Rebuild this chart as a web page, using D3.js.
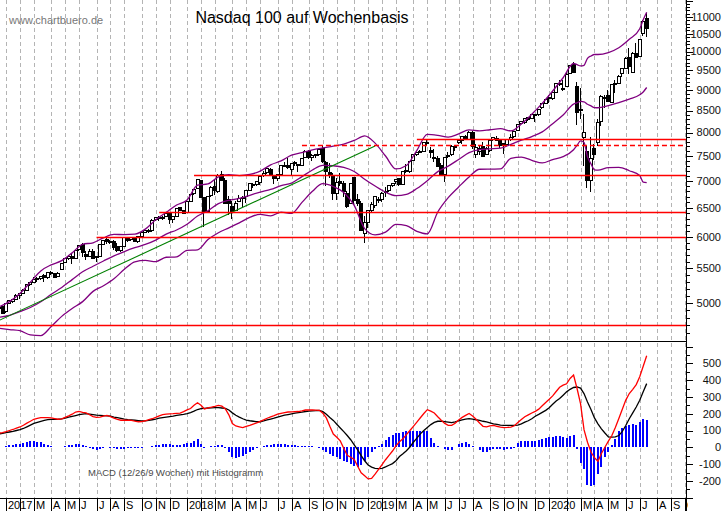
<!DOCTYPE html>
<html lang="de">
<head>
<meta charset="UTF-8" />
<script src="https://d3js.org/d3.v7.min.js"></script>
<title>Nasdaq 100 auf Wochenbasis</title>
<style>
  body { margin: 0; background: #fff; }
  svg { display: block; font-family: Arial, "Liberation Sans", sans-serif; }
</style>
</head>
<body>
<script type="text/javascript">
var width = 723;
var height = 511;
var plotRight = 686;
var mainBottom = 341;
var macdBottom = 498;

// first weekly bar: week starting Mon 19 Dec 2016
var firstWeek = new Date(2016, 11, 19);
var monthLetters = ["J", "F", "M", "A", "M", "J", "J", "A", "S", "O", "N", "D"];

// weekly candles (Nasdaq 100)
var open = [4935,4950,4890,4990,5020,5050,5100,5130,5180,5255,
  5290,5330,5350,5390,5360,5440,5420,5380,5480,5590,
  5650,5690,5660,5790,5870,5710,5690,5770,5670,5690,
  5880,5950,5920,5930,5840,5780,5840,5985,5950,5990,
  5930,6010,6080,6110,6100,6290,6330,6330,6340,6410,
  6290,6350,6500,6450,6420,6620,6770,6850,7010,6690,
  6440,6720,6890,6800,7120,7000,6650,6530,6460,6620,
  6680,6700,6810,6940,6930,6970,7100,7160,7230,7100,
  7040,7130,7300,7310,7230,7360,7330,7310,7460,7600,
  7470,7510,7520,7660,7370,7160,7100,6760,6980,6960,
  6770,6580,7060,6650,6580,6050,6250,6460,6540,6660,
  6660,6790,6810,6920,6980,7050,6940,7200,7190,7400,
  7520,7590,7600,7790,7620,7440,7450,7300,7120,7500,
  7520,7700,7780,7820,7920,7850,8010,7530,7600,7690,
  7530,7620,7840,7870,7830,7730,7730,7840,7910,8040,
  8210,8230,8330,8320,8400,8400,8560,8670,8780,8780,
  8940,9160,9030,9080,9420,9640,9070,8520,7880,7590,
  7000,7650,7780,8240,8780,8870,8700,9150,9170,9420,
  9550,9850,9450,9950,9870,10510,10960];
var high = [4965,4960,5000,5040,5050,5120,5140,5190,5260,5290,
  5370,5370,5390,5410,5450,5460,5430,5440,5590,5650,
  5700,5720,5790,5870,5895,5770,5800,5800,5690,5890,
  5950,6000,5950,5950,5900,5850,5990,5990,5995,6000,
  6010,6080,6110,6125,6300,6340,6350,6350,6410,6430,
  6350,6480,6520,6470,6620,6750,6830,7030,7020,6700,
  6720,6900,7010,7130,7185,7060,6720,6620,6620,6740,
  6720,6800,6970,6960,6990,7100,7200,7280,7260,7120,
  7130,7300,7370,7450,7360,7400,7340,7440,7620,7620,
  7530,7550,7640,7700,7400,7350,7160,7050,7150,6990,
  6800,6960,7080,6760,6630,6350,6470,6600,6700,6690,
  6790,6880,6920,6970,7030,7060,7190,7340,7380,7530,
  7590,7620,7790,7850,7680,7640,7500,7350,7470,7580,
  7720,7730,7830,7930,7950,8030,8040,7760,7730,7800,
  7680,7840,7900,7920,7850,7770,7860,7960,8030,8190,
  8250,8330,8340,8420,8420,8530,8660,8780,8870,8950,
  9180,9250,9250,9460,9640,9720,9190,9040,8430,7710,
  7900,7760,8300,8860,8880,9000,9140,9250,9380,9560,
  9850,10100,9990,10230,10350,10900,11120];
var low = [4925,4850,4870,4980,5000,5045,5060,5120,5175,5240,
  5280,5300,5330,5300,5340,5400,5360,5370,5470,5580,
  5630,5570,5650,5770,5680,5630,5680,5640,5600,5680,
  5870,5880,5880,5790,5760,5760,5830,5920,5940,5910,
  5900,6000,6060,6060,6080,6260,6270,6290,6330,6220,
  6240,6340,6440,6390,6410,6610,6730,6840,6690,6160,
  6430,6700,6730,6780,6990,6580,6380,6310,6440,6600,
  6520,6580,6800,6860,6900,6920,7080,7140,7120,6950,
  7000,7120,7270,7240,7120,7300,7180,7300,7460,7430,
  7400,7460,7490,7360,6910,7050,6650,6650,6900,6690,
  6500,6560,6550,6540,6100,5900,6150,6430,6490,6580,
  6600,6700,6790,6880,6950,6900,6920,7150,7150,7390,
  7500,7560,7590,7710,7450,7370,7280,7120,6980,7450,
  7500,7600,7750,7760,7850,7830,7650,7460,7520,7470,
  7520,7580,7810,7810,7660,7550,7700,7810,7880,8030,
  8180,8200,8250,8310,8230,8370,8540,8660,8690,8760,
  8930,9100,8980,9060,9400,9440,8170,8300,7290,6860,
  6790,7420,7700,8150,8570,8700,8680,8910,9160,9320,
  9530,9400,9420,9840,9850,10450,10410];
var close = [4945,4863,4990,5030,5045,5105,5130,5180,5255,5285,
  5330,5350,5380,5360,5435,5420,5370,5420,5580,5645,
  5690,5650,5785,5865,5740,5680,5760,5650,5680,5880,
  5940,5920,5925,5830,5780,5835,5985,5935,5990,5930,
  6005,6080,6110,6090,6280,6330,6335,6330,6400,6300,
  6340,6480,6460,6396,6620,6750,6835,7025,6690,6420,
  6715,6880,6810,7110,7010,6580,6580,6440,6580,6670,
  6690,6810,6960,6910,6990,7080,7150,7240,7130,7040,
  7120,7300,7300,7260,7350,7350,7300,7440,7590,7470,
  7510,7520,7630,7390,7190,7100,6760,6970,6960,6800,
  6530,6950,6630,6570,6100,6240,6460,6560,6700,6650,
  6760,6800,6920,6960,7030,6930,7190,7180,7380,7520,
  7570,7600,7780,7760,7580,7470,7290,7130,7460,7500,
  7700,7670,7830,7920,7850,8000,7690,7680,7650,7480,
  7660,7830,7880,7820,7710,7770,7850,7900,8020,8180,
  8240,8320,8300,8400,8390,8520,8660,8770,8800,8930,
  9170,9130,9000,9400,9620,9450,8460,8530,7990,7010,
  7440,7530,8230,8830,8800,8720,9120,9150,9330,9550,
  9820,9590,9950,9850,10340,10850,10650];

// Bollinger bands, read every few weeks
var bandWeeks = [0,3,6,9,12,15,18,21,24,27,30,33,36,39,42,45,48,51,54,57,
  60,63,66,69,72,75,78,81,84,87,90,93,96,99,102,105,108,111,114,117,
  120,123,126,129,132,135,138,141,144,147,150,153,156,159,162,165,
  166,167,168,169,170,171,172,175,178,181,184,185,186];
var bandUpper = [4948,5019,5132,5296,5463,5555,5619,5741,5879,5903,
  5984,6041,6038,6045,6130,6289,6420,6551,6642,6918,
  6943,7081,7123,7104,7127,7193,7318,7398,7515,7570,
  7627,7668,7706,7750,7827,7927,7770,7498,7235,7304,
  7617,7959,7938,7897,7969,8059,8037,8061,8087,8035,
  8190,8414,8669,8970,9304,9677,
  9645,9611,9629,9816,9878,9919,9919,9973,10106,10344,10649,10915,11145];
var bandMid = [4807,4833,4882,4938,5017,5121,5219,5333,5449,5533,
  5614,5693,5762,5823,5876,5947,6046,6115,6212,6354,
  6449,6575,6637,6670,6729,6789,6838,6910,6959,7084,
  7215,7308,7300,7266,7185,7033,6902,6788,6723,6746,
  6855,7005,7182,7291,7427,7569,7633,7647,7661,7743,
  7832,7912,8013,8198,8394,8653,
  8683,8715,8707,8648,8608,8569,8565,8617,8686,8772,8877,8947,9057];
var bandLower = [4664,4647,4632,4580,4571,4687,4819,4925,5019,5163,
  5244,5345,5486,5601,5622,5605,5672,5679,5782,5790,
  5955,6069,6151,6236,6331,6385,6358,6422,6403,6598,
  6803,6948,6894,6782,6543,6139,6034,6078,6211,6188,
  6093,6051,6426,6685,6885,7079,7229,7233,7235,7451,
  7474,7410,7357,7426,7484,7629,
  7721,7819,7785,7480,7338,7219,7211,7261,7266,7200,7105,6979,6969];

// horizontal marks: level, first week, dashed
var levelValues = [7858, 7720, 7116, 6425, 6003, 4706];
var levelStart = [120, 87, 56, 46, 28, 0];
var levelDashed = [false, true, false, false, false, false];

// green trend line
var trendWeeks = [0, 108];
var trendValues = [4765, 7710];

// MACD 12/26/9
var macd = [84,88,93,100,106,114,121,131,144,155,
  167,172,177,177,177,175,171,167,169,178,
  187,197,210,214,208,205,194,183,178,180,
  185,190,182,173,166,161,161,161,160,156,
  152,153,158,164,170,178,187,195,197,199,
  200,202,204,212,223,231,250,265,250,228,
  235,239,244,250,245,228,193,141,127,122,
  117,124,130,138,145,154,163,173,181,188,
  197,202,207,210,211,212,213,217,222,223,
  222,221,220,203,175,125,79,60,38,-6,
  -48,-59,-72,-113,-152,-170,-188,-185,-160,-132,
  -103,-74,-48,-22,8,33,51,75,100,125,
  150,176,201,224,215,204,182,161,142,131,
  131,143,163,178,190,201,186,167,145,125,
  122,127,130,125,120,117,118,120,128,147,
  165,182,193,204,214,227,247,267,286,306,
  332,357,370,378,410,430,350,260,105,30,
  -28,-62,-83,-37,0,37,70,118,172,227,
  281,320,345,373,420,482,545];
var signal = [80,83,87,91,95,100,105,112,122,132,
  142,149,155,160,165,166,166,167,169,174,
  179,184,189,194,198,200,198,195,192,190,
  188,187,185,180,176,172,168,165,163,161,
  159,157,158,160,164,168,173,177,180,183,
  186,190,193,196,200,207,215,225,230,232,
  234,235,236,236,234,232,222,205,191,180,
  170,162,158,155,152,152,157,163,168,173,
  180,186,191,195,199,203,206,209,213,215,
  217,218,220,212,197,178,160,137,115,93,
  70,45,15,-15,-50,-80,-105,-118,-125,-127,
  -125,-117,-107,-97,-80,-55,-38,-20,2,30,
  55,80,100,118,135,148,155,156,153,150,
  147,152,158,163,168,171,168,164,160,155,
  151,146,140,136,132,131,130,130,131,132,
  140,150,158,170,185,196,208,220,236,256,
  276,290,310,330,345,356,359,352,320,270,
  225,175,140,110,85,62,60,62,70,95,
  130,170,205,240,280,330,379];
var histo = [2,3,10,14,16,18,22,28,32,35,
  36,34,30,22,12,6,4,3,4,8,
  12,16,20,20,12,5,-4,-12,-14,-10,
  -3,3,-3,-7,-10,-11,-8,-5,-4,-5,
  -7,-4,0,4,8,12,16,18,18,17,
  16,14,13,18,24,28,36,48,22,-4,
  2,5,8,14,11,-4,-29,-60,-62,-58,
  -52,-40,-28,-17,-7,2,8,12,15,17,
  18,18,17,16,14,12,10,10,10,9,
  6,4,-5,-15,-25,-40,-50,-60,-70,-80,
  -90,-100,-110,-115,-105,-80,-55,-30,-10,5,
  22,43,59,75,88,88,89,95,98,98,
  100,100,100,95,55,25,8,2,-10,-18,
  -16,0,20,28,32,20,8,3,-15,-30,
  -29,-19,-10,-11,-12,-14,-12,-10,-3,25,
  38,40,40,40,40,42,48,55,60,62,
  65,70,62,55,70,72,-9,-95,-130,-225,
  -230,-225,-160,-120,-60,-30,15,50,95,115,
  125,130,140,135,150,170,165];

var priceLabels = [5000,5500,6000,6500,7000,7500,8000,8500,9000,9500,10000,10500,11000];
var macdLabels = [-200,-100,0,100,200,300,400,500];

var svg = d3.select("body").append("svg").attr("width", width).attr("height", height);

var x = d3.scaleLinear().domain([0.277, 197.29]).range([0, plotRight]);
var y = d3.scaleLog().domain([5000, 11000]).range([303, 17]);
var ym = d3.scaleLinear().domain([0, 500]).range([447.3, 363.3]);

var defs = svg.append("defs");
defs.append("clipPath").attr("id", "clipMain").append("rect")
  .attr("x", 0).attr("y", 0).attr("width", plotRight).attr("height", mainBottom);
defs.append("clipPath").attr("id", "clipMacd").append("rect")
  .attr("x", 0).attr("y", mainBottom).attr("width", plotRight).attr("height", macdBottom - mainBottom);
defs.append("clipPath").attr("id", "clipAxis").append("rect")
  .attr("x", 0).attr("y", macdBottom).attr("width", plotRight + 2).attr("height", height - macdBottom);

// month ticks: first week whose Friday lies in a new month
var monthTicks = [];
for (var i = 1; i <= 197; i++) {
  var fri = d3.timeDay.offset(firstWeek, 7 * i + 4);
  var prev = d3.timeDay.offset(fri, -7);
  if (fri.getMonth() !== prev.getMonth()) monthTicks.push({ i: i, date: fri });
}

// dashed grid
svg.append("g").selectAll("line").data(monthTicks).enter().append("line")
  .attr("x1", function(d){ return Math.round(x(d.i)) + 0.5; })
  .attr("x2", function(d){ return Math.round(x(d.i)) + 0.5; })
  .attr("y1", 0).attr("y2", macdBottom)
  .attr("stroke", "#b4b4b4").attr("stroke-dasharray", "4,3");

// texts
svg.append("text").attr("x", 9).attr("y", 24).attr("font-size", 11).attr("fill", "#777")
  .text("www.chartbuero.de");
svg.append("text").attr("x", 302).attr("y", 23).attr("text-anchor", "middle")
  .attr("font-size", 16).attr("fill", "#000").text("Nasdaq 100 auf Wochenbasis");
svg.append("text").attr("x", 88).attr("y", 476).attr("font-size", 9.5).attr("fill", "#4a4a4a")
  .text("MACD (12/26/9 Wochen) mit Histogramm");

// ----- main panel -----
var gMain = svg.append("g").attr("clip-path", "url(#clipMain)");

var idx = d3.range(close.length);
var gC = gMain.append("g").attr("shape-rendering", "crispEdges");
gC.selectAll("line").data(idx).enter().append("line")
  .attr("x1", function(i){ return Math.round(x(i)) - 0.5; })
  .attr("x2", function(i){ return Math.round(x(i)) - 0.5; })
  .attr("y1", function(i){ return y(high[i]); })
  .attr("y2", function(i){ return y(low[i]); })
  .attr("stroke", "#000");
gC.selectAll("rect").data(idx).enter().append("rect")
  .attr("x", function(i){ return Math.round(x(i)) - 2; })
  .attr("width", 3)
  .attr("y", function(i){ return y(Math.max(open[i], close[i])); })
  .attr("height", function(i){ return Math.max(1, y(Math.min(open[i], close[i])) - y(Math.max(open[i], close[i]))); })
  .attr("fill", function(i){ return close[i] >= open[i] ? "#fff" : "#000"; })
  .attr("stroke", "#000");

// bands
var bandLine = function(vals) {
  return d3.line().curve(d3.curveMonotoneX)
    .x(function(d, k){ return x(bandWeeks[k]); })
    .y(function(d){ return y(d); })(vals);
};
[bandUpper, bandMid, bandLower].forEach(function(vals){
  gMain.append("path").attr("d", bandLine(vals))
    .attr("fill", "none").attr("stroke", "#800080").attr("stroke-width", 1.3);
});

// trend line
gMain.append("path")
  .attr("d", d3.line().x(function(d, k){ return x(trendWeeks[k]); }).y(function(d){ return y(d); })(trendValues))
  .attr("fill", "none").attr("stroke", "#008000").attr("stroke-width", 1.1);

// horizontal levels
levelValues.forEach(function(v, k){
  gMain.append("line")
    .attr("x1", x(levelStart[k])).attr("x2", plotRight)
    .attr("y1", Math.round(y(v)) + 0.5).attr("y2", Math.round(y(v)) + 0.5)
    .attr("stroke", "#ff0000").attr("stroke-width", 1.7)
    .attr("stroke-dasharray", levelDashed[k] ? "5,3" : null);
});

// ----- MACD panel -----
var gM = svg.append("g").attr("clip-path", "url(#clipMacd)");
gM.append("g").attr("shape-rendering", "crispEdges").selectAll("rect").data(idx).enter().append("rect")
  .attr("x", function(i){ return Math.round(x(i)) - 1; })
  .attr("width", 2)
  .attr("y", function(i){ return Math.min(ym(0), ym(histo[i])); })
  .attr("height", function(i){ return Math.abs(ym(histo[i]) - ym(0)); })
  .attr("fill", "#0000ff");
gM.append("path")
  .attr("d", d3.line().x(function(d, i){ return x(i); }).y(function(d){ return ym(d); })(signal))
  .attr("fill", "none").attr("stroke", "#000").attr("stroke-width", 1.3);
gM.append("path")
  .attr("d", d3.line().x(function(d, i){ return x(i); }).y(function(d){ return ym(d); })(macd))
  .attr("fill", "none").attr("stroke", "#ff0000").attr("stroke-width", 1.3);

// ----- frame and axes -----
var frame = svg.append("g").attr("shape-rendering", "crispEdges");
frame.append("line").attr("x1", 0).attr("x2", plotRight).attr("y1", mainBottom + 0.5).attr("y2", mainBottom + 0.5).attr("stroke", "#000");
frame.append("line").attr("x1", 0).attr("x2", plotRight).attr("y1", macdBottom + 0.5).attr("y2", macdBottom + 0.5).attr("stroke", "#000");
frame.append("line").attr("x1", plotRight + 0.5).attr("x2", plotRight + 0.5).attr("y1", 0).attr("y2", height).attr("stroke", "#000");

// price axis ticks (every 100, long every 500)
var priceMinor = d3.range(4600, 11600, 100);
frame.selectAll("line.pt").data(priceMinor).enter().append("line")
  .attr("x1", plotRight).attr("x2", function(v){ return plotRight + (v % 500 === 0 ? 7 : 4); })
  .attr("y1", function(v){ return Math.round(y(v)) + 0.5; })
  .attr("y2", function(v){ return Math.round(y(v)) + 0.5; })
  .attr("stroke", "#000");
svg.append("g").selectAll("text").data(priceLabels).enter().append("text")
  .attr("x", 721).attr("y", function(v){ return y(v); }).attr("dy", "0.35em")
  .attr("text-anchor", "end").attr("font-size", 11).attr("fill", "#111")
  .text(function(v){ return v; });

// macd axis ticks (every 50, long every 100)
var macdMinor = d3.range(-300, 650, 50);
frame.selectAll("line.mt").data(macdMinor).enter().append("line")
  .attr("x1", plotRight).attr("x2", function(v){ return plotRight + (v % 100 === 0 ? 7 : 4); })
  .attr("y1", function(v){ return Math.round(ym(v)) + 0.5; })
  .attr("y2", function(v){ return Math.round(ym(v)) + 0.5; })
  .attr("stroke", "#000");
svg.append("g").selectAll("text").data(macdLabels).enter().append("text")
  .attr("x", 721).attr("y", function(v){ return ym(v); }).attr("dy", "0.35em")
  .attr("text-anchor", "end").attr("font-size", 11).attr("fill", "#111")
  .text(function(v){ return v; });

// month axis
var gX = svg.append("g").attr("clip-path", "url(#clipAxis)");
gX.append("g").attr("shape-rendering", "crispEdges").selectAll("line").data(monthTicks).enter().append("line")
  .attr("x1", function(d){ return Math.round(x(d.i)) + 0.5; })
  .attr("x2", function(d){ return Math.round(x(d.i)) + 0.5; })
  .attr("y1", macdBottom).attr("y2", height).attr("stroke", "#000");
var lastEnd = -10;
monthTicks.forEach(function(d){
  var m = d.date.getMonth();
  var label = m === 0 ? String(d.date.getFullYear()) : monthLetters[m];
  var tx = Math.round(x(d.i)) + 2;
  if (tx < lastEnd) return;
  gX.append("text").attr("x", tx).attr("y", 509).attr("font-size", 11).attr("fill", "#000").text(label);
  lastEnd = tx + (m === 0 ? 26 : 9);
});
</script>
</body>
</html>
